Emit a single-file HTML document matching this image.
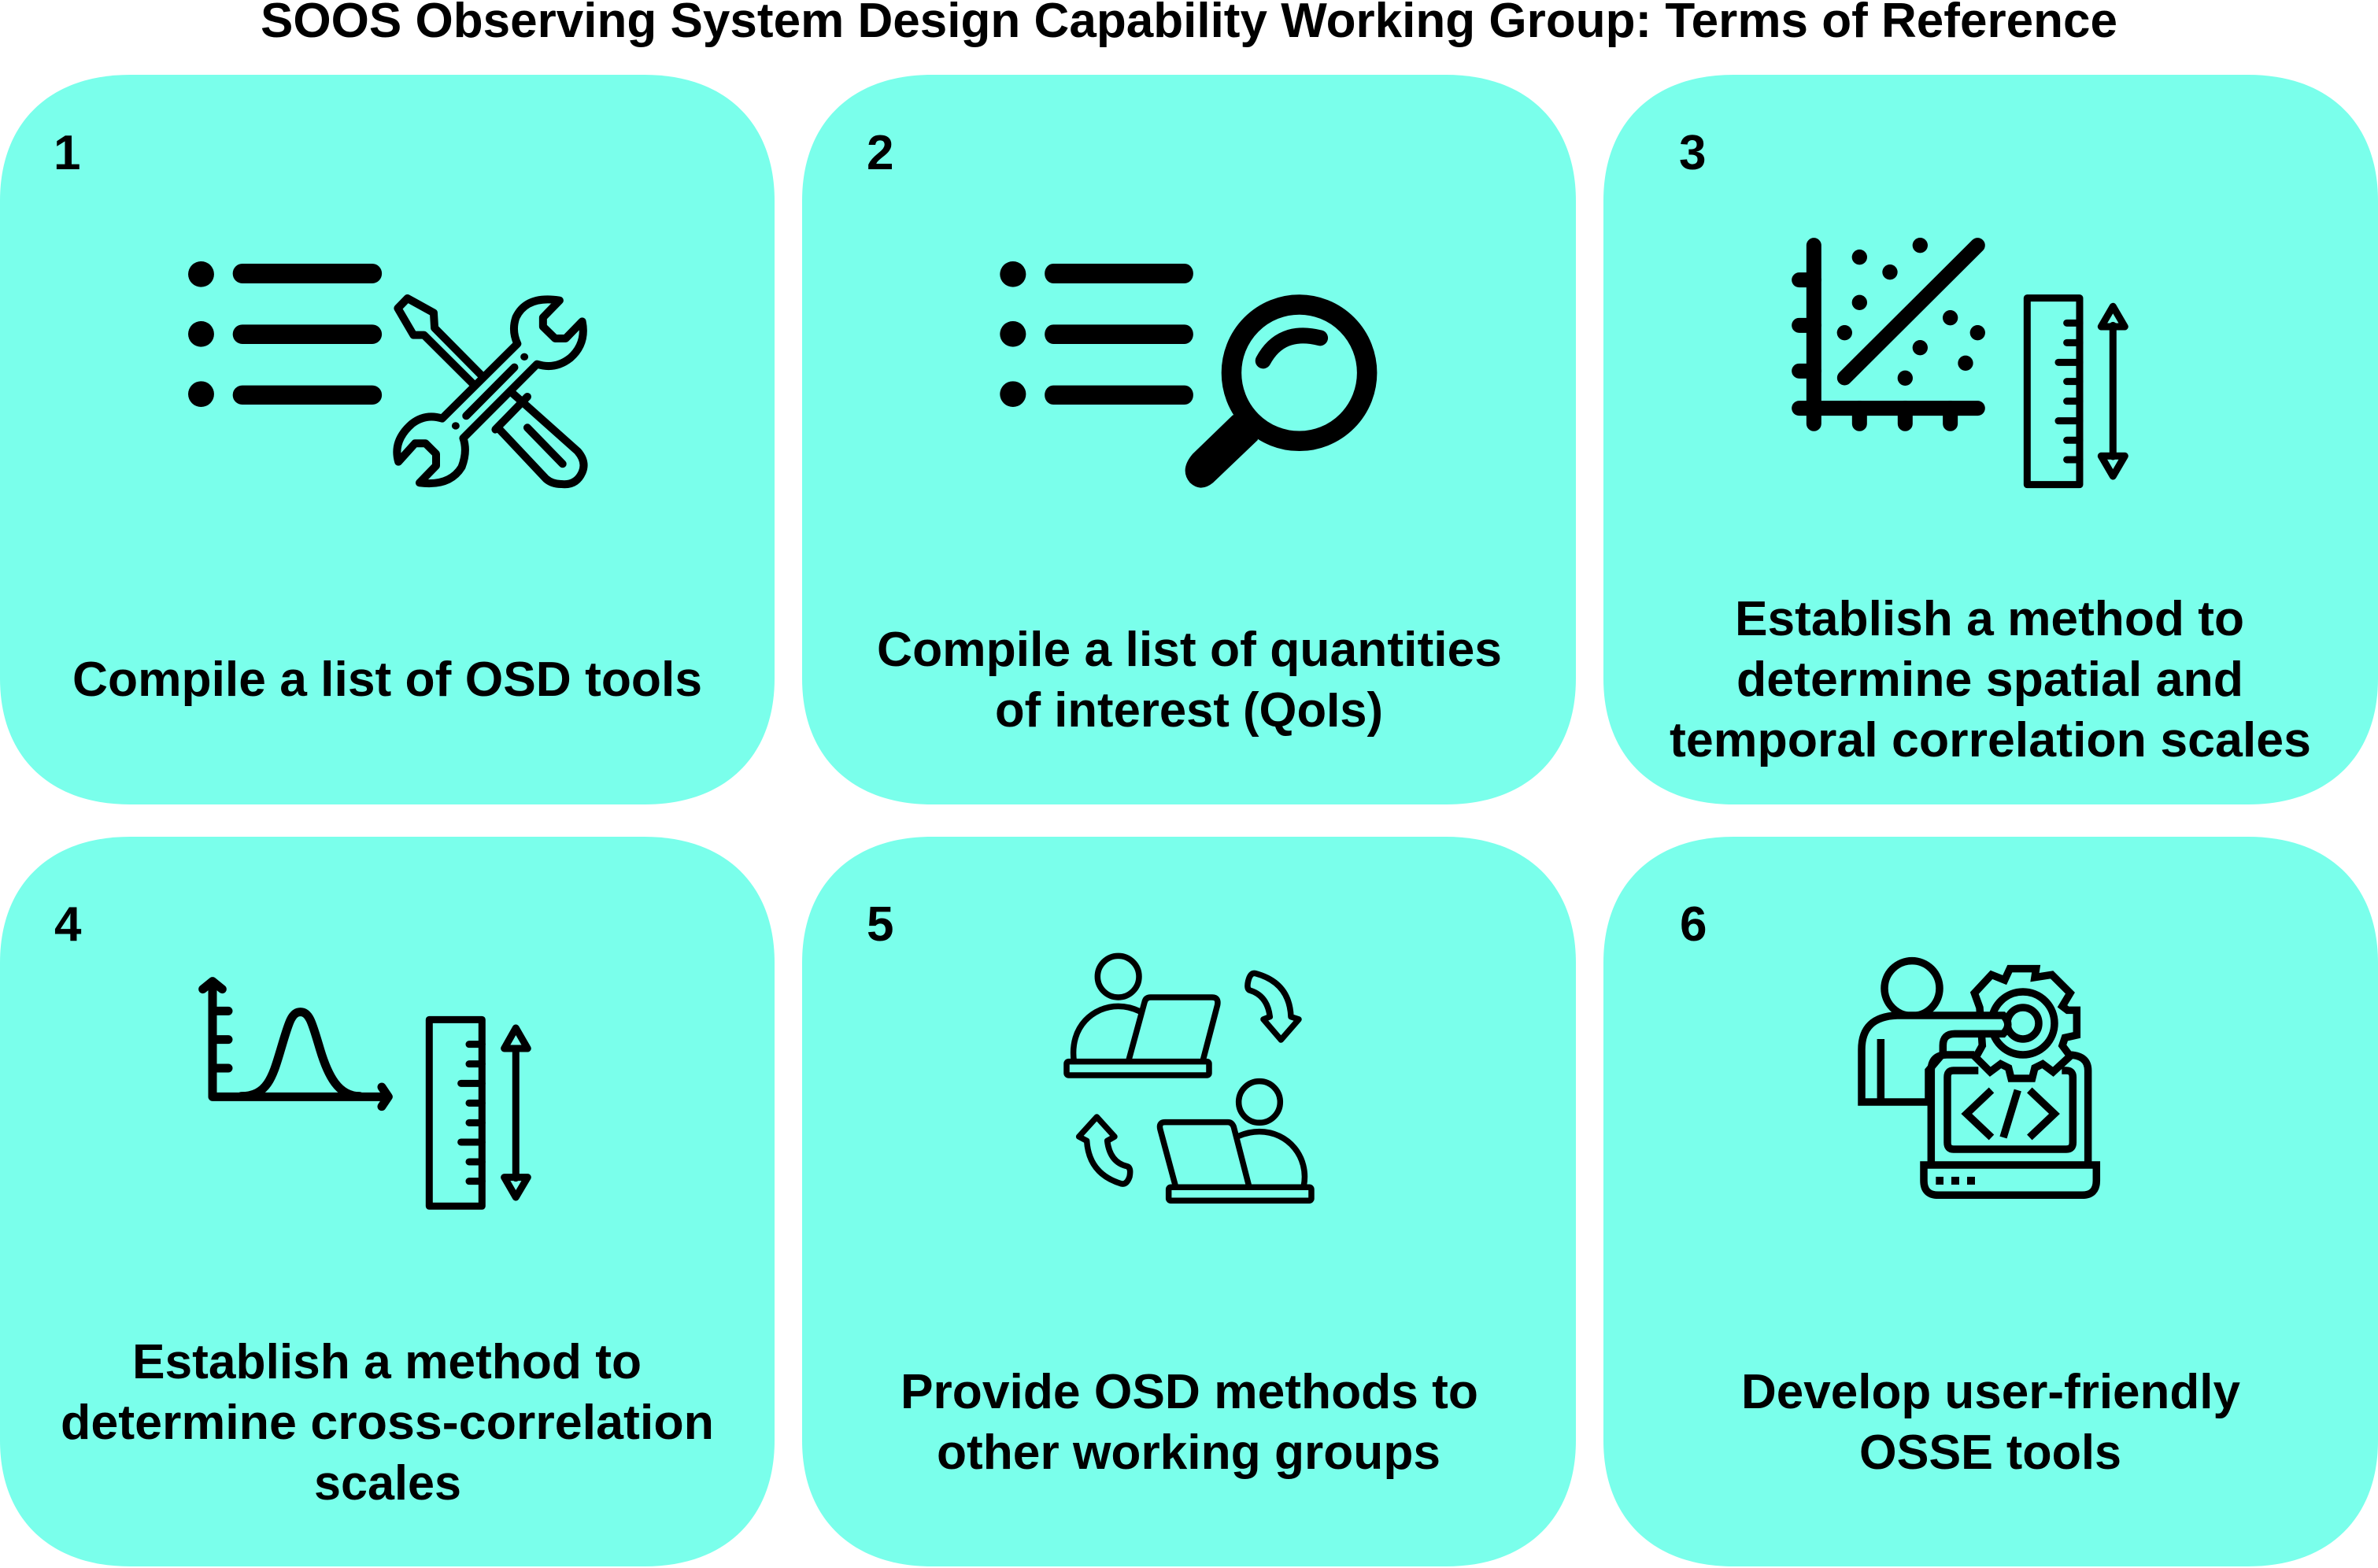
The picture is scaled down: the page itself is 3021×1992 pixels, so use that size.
<!DOCTYPE html>
<html lang="en">
<head>
<meta charset="utf-8">
<title>SOOS Observing System Design Capability Working Group: Terms of Reference</title>
<style>
html,body{margin:0;padding:0;background:#fff;}
svg{display:block;}
text{font-family:"Liberation Sans",sans-serif;font-weight:700;font-size:62px;fill:#000;}
.i *{vector-effect:non-scaling-stroke;}
.s{fill:none;stroke:#000;stroke-linecap:round;stroke-linejoin:round;}
.b{fill:#7AFFEB;stroke:#000;stroke-linecap:round;stroke-linejoin:round;}
.f{fill:#000;stroke:none;}
</style>
</head>
<body>
<svg width="3021" height="1992" viewBox="0 0 3021 1992" xmlns="http://www.w3.org/2000/svg">
<rect width="3021" height="1992" fill="#fff"/>
<text x="331" y="47" textLength="2359" lengthAdjust="spacingAndGlyphs">SOOS Observing System Design Capability Working Group: Terms of Reference</text>

<g>
<path d="M0,255 c0,-99 63,-160 165,-160 h654 c102,0 165,61 165,160 v607 c0,99 -63,160 -165,160 h-654 c-102,0 -165,-61 -165,-160 z" fill="#7AFFEB"/>
<text x="68" y="215">1</text>
<text x="92" y="884" textLength="800" lengthAdjust="spacingAndGlyphs">Compile a list of OSD tools</text>
<g class="i" transform="translate(200 280) scale(.3827 .3333)">
<g class="f">
<ellipse cx="145" cy="205" rx="43" ry="49"/>
<ellipse cx="145" cy="433" rx="43" ry="49"/>
<ellipse cx="145" cy="662" rx="43" ry="49"/>
<rect x="250" y="165" width="495" height="75" rx="32" ry="37"/>
<rect x="250" y="397" width="495" height="74" rx="32" ry="37"/>
<rect x="250" y="629" width="495" height="73" rx="32" ry="36"/>
</g>
<g>
<path class="s" stroke-width="10" d="M1075,590 L920,410 L917,352 L830,297 L798,335 L850,437 L885,437 L1045,620"/>
<path class="s" stroke-width="10" d="M1180,660 L1395,880 Q1425,920 1410,960 Q1390,1012 1340,1005 Q1310,1005 1290,985 L1130,790"/>
<path class="s" stroke-width="10" d="M1228,672 L1122,797"/>
<path class="s" stroke-width="10" d="M1228,790 L1345,928"/>
</g>
<g>
<path class="b" stroke-width="10" d="M1195,470 Q1175,420 1190,370 Q1225,285 1335,305 L1280,370 L1280,405 L1320,450 L1355,450 L1410,385 Q1425,470 1370,525 Q1320,570 1260,548 L1015,830 Q1030,880 1010,940 Q970,1015 870,1000 L925,935 L925,890 L890,850 L855,850 L800,920 Q780,840 845,775 Q890,735 945,755 Z"/>
<path class="s" stroke-width="10" d="M1025,745 L1185,560"/>
<ellipse class="f" cx="1218" cy="520" rx="13" ry="14"/>
<ellipse class="f" cx="990" cy="783" rx="13" ry="14"/>
</g>
</g>
</g>

<g>
<path d="M1019,255 c0,-99 63,-160 165,-160 h653 c102,0 165,61 165,160 v607 c0,99 -63,160 -165,160 h-653 c-102,0 -165,-61 -165,-160 z" fill="#7AFFEB"/>
<text x="1101" y="215">2</text>
<text x="1114" y="846" textLength="794" lengthAdjust="spacingAndGlyphs">Compile a list of quantities</text>
<text x="1264" y="923" textLength="493" lengthAdjust="spacingAndGlyphs">of interest (QoIs)</text>
<g class="i" transform="translate(1250 310) scale(.3444 .3333)">
<g class="f">
<ellipse cx="107" cy="115" rx="48" ry="49"/>
<ellipse cx="107" cy="343" rx="48" ry="49"/>
<ellipse cx="107" cy="572" rx="48" ry="49"/>
<rect x="224" y="75" width="548" height="75" rx="32" ry="37"/>
<rect x="224" y="307" width="548" height="74" rx="32" ry="37"/>
<rect x="224" y="539" width="548" height="73" rx="32" ry="36"/>
</g>
<ellipse cx="1163" cy="491" rx="250" ry="260" fill="none" stroke="#000" stroke-width="25.5"/>
<path class="f" d="M917,653 L770,800 Q720,860 760,910 Q800,948 845,910 L1010,747 L1010,700 L950,640 Z"/>
<path class="s" stroke-width="20" d="M1030,445 Q1095,320 1240,358"/>
</g>
</g>

<g>
<path d="M2037,255 c0,-99 63,-160 165,-160 h654 c102,0 165,61 165,160 v607 c0,99 -63,160 -165,160 h-654 c-102,0 -165,-61 -165,-160 z" fill="#7AFFEB"/>
<text x="2133" y="215">3</text>
<text x="2204" y="807" textLength="647" lengthAdjust="spacingAndGlyphs">Establish a method to</text>
<text x="2206" y="884" textLength="644" lengthAdjust="spacingAndGlyphs">determine spatial and</text>
<text x="2121" y="961" textLength="815" lengthAdjust="spacingAndGlyphs">temporal correlation scales</text>
<g class="i" transform="translate(2240 280) scale(.3333)">
<g class="s" stroke-width="19">
<path d="M193,95 V775"/>
<path d="M137,716 H817"/>
<path d="M137,227 H193 M137,400 H193 M137,574 H193"/>
<path d="M367,716 V775 M541,716 V775 M713,716 V775"/>
<path d="M310,600 L817,95"/>
</g>
<g class="f">
<circle cx="367" cy="140" r="29"/>
<circle cx="598" cy="95" r="29"/>
<circle cx="483" cy="197" r="29"/>
<circle cx="367" cy="313" r="29"/>
<circle cx="310" cy="428" r="29"/>
<circle cx="713" cy="371" r="29"/>
<circle cx="817" cy="428" r="29"/>
<circle cx="598" cy="485" r="29"/>
<circle cx="771" cy="544" r="29"/>
<circle cx="541" cy="601" r="29"/>
</g>
<g class="s" stroke-width="9">
<rect x="1006" y="296" width="200" height="711"/>
<path d="M1157,391 H1206 M1157,466 H1206 M1125,541 H1206 M1157,614 H1206 M1157,689 H1206 M1125,764 H1206 M1157,838 H1206 M1157,912 H1206"/>
<path d="M1333,400 V900"/>
<path d="M1333,328 L1378,405 H1288 Z"/>
<path d="M1333,975 L1378,898 H1288 Z"/>
</g>
</g>
</g>

<g>
<path d="M0,1223 c0,-99 63,-160 165,-160 h654 c102,0 165,61 165,160 v607 c0,99 -63,160 -165,160 h-654 c-102,0 -165,-61 -165,-160 z" fill="#7AFFEB"/>
<text x="69" y="1195">4</text>
<text x="168" y="1751" textLength="647" lengthAdjust="spacingAndGlyphs">Establish a method to</text>
<text x="77" y="1828" textLength="830" lengthAdjust="spacingAndGlyphs">determine cross-correlation</text>
<text x="399" y="1905" textLength="187" lengthAdjust="spacingAndGlyphs">scales</text>
<g class="i" transform="translate(230 1220) scale(.3333)">
<g class="s" stroke-width="11">
<path d="M120,85 V520 H785"/>
<path d="M83,110 L120,80 L157,110"/>
<path d="M765,483 L790,520 L765,557"/>
<path d="M120,193 H180 M120,302 H180 M120,411 H180"/>
<path d="M230,518 C330,518 350,440 380,340 C410,240 420,197 455,197 C490,197 500,240 530,340 C560,440 600,518 680,518"/>
</g>
<g class="s" stroke-width="9">
<rect x="946" y="226" width="201" height="711"/>
<path d="M1098,320 H1147 M1098,395 H1147 M1067,469 H1147 M1098,544 H1147 M1098,619 H1147 M1067,693 H1147 M1098,768 H1147 M1098,842 H1147"/>
<path d="M1276,340 V830"/>
<path d="M1276,258 L1321,336 H1232 Z"/>
<path d="M1276,903 L1321,827 H1232 Z"/>
</g>
</g>
</g>

<g>
<path d="M1019,1223 c0,-99 63,-160 165,-160 h653 c102,0 165,61 165,160 v607 c0,99 -63,160 -165,160 h-653 c-102,0 -165,-61 -165,-160 z" fill="#7AFFEB"/>
<text x="1101" y="1195">5</text>
<text x="1144" y="1789" textLength="734" lengthAdjust="spacingAndGlyphs">Provide OSD methods to</text>
<text x="1190" y="1866" textLength="640" lengthAdjust="spacingAndGlyphs">other working groups</text>
<g class="i s" stroke-width="7.5" transform="translate(1330 1190) scale(.3333)">
<g>
<circle cx="272" cy="152" r="79"/>
<path d="M103,475 C85,340 180,265 272,265 Q315,265 355,285"/>
<path d="M312,470 L372,250 Q376,231 395,231 H630 Q655,231 650,260 L595,470"/>
<rect x="75" y="476" width="543" height="52" rx="8"/>
</g>
<path d="M795,140 Q925,175 930,305 L960,315 L892,393 L825,315 L850,305 Q840,225 775,205 Q760,200 767,170 Q775,135 795,140 Z"/>
<g>
<circle cx="810" cy="630" r="79"/>
<path d="M730,760 Q770,743 810,743 C920,743 1000,840 979,950"/>
<path d="M770,950 L712,725 Q705,707 690,707 H450 Q425,707 432,735 L490,950"/>
<rect x="464" y="955" width="544" height="51" rx="8"/>
</g>
<path d="M285,942 Q160,905 152,778 L122,762 L190,687 L258,762 L230,778 Q240,860 305,875 Q322,880 315,915 Q305,945 285,942 Z"/>
</g>
</g>

<g>
<path d="M2037,1223 c0,-99 63,-160 165,-160 h654 c102,0 165,61 165,160 v607 c0,99 -63,160 -165,160 h-654 c-102,0 -165,-61 -165,-160 z" fill="#7AFFEB"/>
<text x="2134" y="1195">6</text>
<text x="2212" y="1789" textLength="634" lengthAdjust="spacingAndGlyphs">Develop user-friendly</text>
<text x="2362" y="1866" textLength="333" lengthAdjust="spacingAndGlyphs">OSSE tools</text>
<g class="i" transform="translate(2340 1200) scale(.3333)">
<path class="s" stroke-width="9.5" style="stroke-linejoin:miter;stroke-linecap:butt" d="M640,92 H740 L735,125 L800,115 L870,185 L840,235 L860,250 L895,250 V345 L850,355 L840,385 L870,425 L805,485 L765,455 L735,470 L725,510 H645 L635,470 L605,455 L565,485 L510,430 L535,385 L525,240 L505,185 L570,115 L620,135 Z"/>
<circle cx="690" cy="300" r="120" fill="#7AFFEB" stroke="#000" stroke-width="9.5"/>
<circle cx="690" cy="300" r="60" fill="none" stroke="#000" stroke-width="9.5"/>
<circle class="s" cx="267" cy="167" r="105" stroke-width="9.5" style="fill:#7AFFEB"/>
<path class="b" stroke-width="9.5" style="stroke-linejoin:miter" d="M615,270 H210 Q75,275 75,400 V600 H330 V480 L385,415 V385 Q385,340 430,340 H615 Q650,305 615,270 Z"/>
<path class="s" stroke-width="9.5" style="stroke-linecap:butt" d="M148,360 V600"/>
<path class="s" stroke-width="9.5" style="stroke-linecap:butt" d="M340,830 V480 Q340,420 400,420 H505 M860,420 Q938,420 938,480 V830"/>
<path class="s" stroke-width="9.5" style="stroke-linecap:butt" d="M520,480 H425 Q402,480 402,505 V755 Q402,780 425,780 H855 Q880,780 880,755 V505 Q880,480 855,480 H838"/>
<path class="s" stroke-width="9.5" style="stroke-linejoin:miter" d="M312,840 H970 V900 Q970,955 915,955 H367 Q312,955 312,900 Z"/>
<g class="f">
<rect x="358" y="885" width="29" height="30"/>
<rect x="417" y="885" width="30" height="30"/>
<rect x="477" y="885" width="30" height="30"/>
</g>
<path class="s" stroke-width="9.5" style="stroke-linecap:butt;stroke-linejoin:miter" d="M570,555 L475,645 L570,735 M670,555 L615,735 M715,555 L810,645 L715,735"/>
</g>
</g>
</svg>
</body>
</html>
